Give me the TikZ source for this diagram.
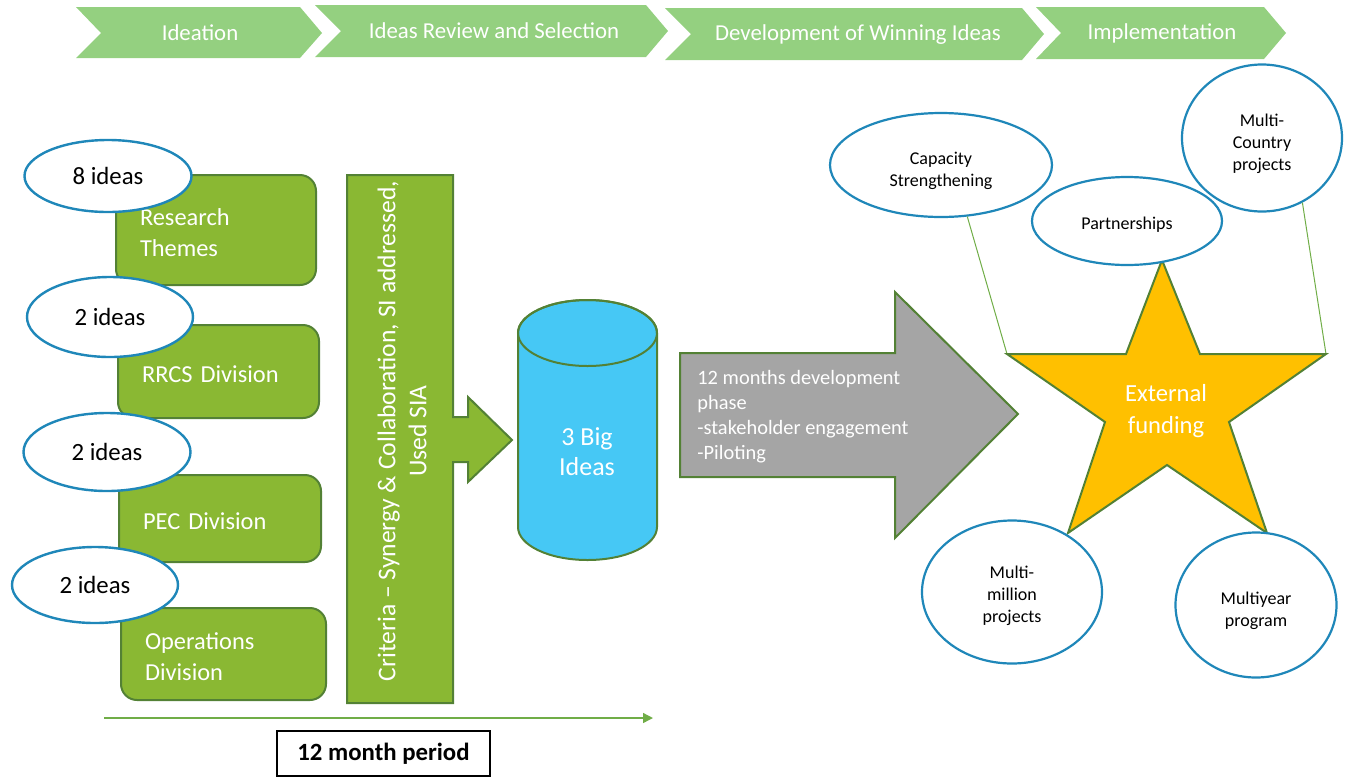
\documentclass[tikz,border=0pt]{standalone}
\usepackage{fontspec}
\setmainfont{Carlito}
\usetikzlibrary{arrows.meta,positioning,shapes.geometric}
\definecolor{phasegreen}{RGB}{148,208,128}
\definecolor{boxgreen}{RGB}{138,184,51}
\definecolor{edgegreen}{RGB}{83,129,53}
\definecolor{linkgreen}{RGB}{112,173,71}
\definecolor{ideablue}{RGB}{31,135,185}
\definecolor{cylblue}{RGB}{70,200,245}
\definecolor{arrowgray}{RGB}{165,165,165}
\definecolor{stargold}{RGB}{255,192,0}
\tikzset{
  phase/.style={fill=phasegreen},
  phasetext/.style={text=white,font=\fontsize{11.4}{13}\selectfont},
  unitbox/.style={rectangle,rounded corners=8pt,draw=edgegreen,line width=1pt,fill=boxgreen,text=white,align=left,anchor=west,inner xsep=12pt,font=\fontsize{12.2}{15.5}\selectfont,execute at begin node={\rule{0pt}{11pt}}},
  ideas/.style={ellipse,draw=ideablue,line width=1.2pt,fill=white,inner sep=0pt,font=\fontsize{12.4}{15}\selectfont},
  outcome/.style={ellipse,draw=ideablue,line width=1.1pt,fill=white,inner sep=0pt,align=center,font=\fontsize{9}{11}\selectfont},
  block/.style={draw=edgegreen,line width=1pt},
  whitetext/.style={text=white,align=center},
  link/.style={draw=linkgreen,line width=0.5pt},
  timeline/.style={draw=linkgreen,line width=0.7pt,-{Triangle[length=5pt,width=5pt]}}
}
\begin{document}
\begin{tikzpicture}[x=0.5pt,y=-0.5pt]
\useasboundingbox (0,0) rectangle (1351,778);

% phases along the top
\fill[phase] (76,7) -- (300,7) -- (322,33) -- (300,58) -- (76,58) -- (101,33) -- cycle;
\fill[phase] (315,5) -- (646,5) -- (668,31) -- (646,57) -- (315,57) -- (341,31) -- cycle;
\fill[phase] (665,8) -- (1022,8) -- (1044,34) -- (1022,60) -- (665,60) -- (691,34) -- cycle;
\fill[phase] (1036,7) -- (1264,7) -- (1286,33) -- (1264,59) -- (1036,59) -- (1061,33) -- cycle;
\node[phasetext] (p1) at (200,33) {Ideation};
\node[phasetext] (p2) at (494,31) {Ideas Review and Selection};
\node[phasetext] (p3) at (858,35) {Development of Winning Ideas};
\node[phasetext] (p4) at (1162,33) {Implementation};

% sources of ideas
\node[unitbox,text width=76pt,minimum height=55pt] (themes) at (115,230) {Research\\Themes};
\node[unitbox,text width=76.5pt,minimum height=46.5pt] (rrcs) at (117,371.5) {RRCS Division};
\node[unitbox,text width=77pt,minimum height=43.5pt] (pec) at (118,518.5) {PEC Division};
\node[unitbox,text width=78.5pt,minimum height=46pt] (ops) at (120,654) {Operations\\Division};

\node[ideas,minimum width=83.5pt,minimum height=36pt] (i1) at (108,176) {8 ideas};
\node[ideas,minimum width=83pt,minimum height=40pt] (i2) at (110,317) {2 ideas};
\node[ideas,minimum width=83.5pt,minimum height=39pt] (i3) at (107,452) {2 ideas};
\node[ideas,minimum width=83pt,minimum height=38pt] (i4) at (95,585) {2 ideas};

% selection criteria
\filldraw[block,fill=boxgreen] (347,175) -- (453,175) -- (453,417) -- (468,417) -- (468,397)
  -- (512,440) -- (468,482) -- (468,462) -- (453,462) -- (453,703) -- (347,703) -- cycle;
\node[whitetext,rotate=90,font=\fontsize{12.8}{15.5}\selectfont] (crit) at (402,431)
  {Criteria -- Synergy \& Collaboration, SI addressed,\\Used SIA};

% big ideas
\filldraw[block,fill=cylblue] (518,333) -- (518,527) arc[start angle=180,end angle=0,x radius=69.5,y radius=33]
  -- (657,333) arc[start angle=0,end angle=-180,x radius=69.5,y radius=33] -- cycle;
\draw[block] (587.5,333) ellipse[x radius=69.5,y radius=33];
\node[whitetext,font=\fontsize{13}{15}\selectfont] (big) at (587,452) {3 Big\\Ideas};

% development phase
\filldraw[block,fill=arrowgray] (680,353) -- (895,353) -- (895,292) -- (1018,414) -- (895,538)
  -- (895,477) -- (680,477) -- cycle;
\node[text=white,align=left,anchor=west,inner sep=0pt,font=\fontsize{10.2}{12.5}\selectfont] (dev) at (697,416.5)
  {12 months development\\phase\\-stakeholder engagement\\-Piloting};

% external funding
\coordinate (starL) at (1007,354);
\coordinate (starR) at (1326,354);
\node[outcome,minimum width=111pt,minimum height=52pt,text height=23.5pt] (cap) at (941,165) {Capacity\\Strengthening};
\node[outcome,minimum width=80pt,minimum height=73.5pt,text height=34.5pt] (mc) at (1262,138) {Multi-\\Country\\projects};
\draw[link] (cap.-63) -- (starL);
\draw[link] (mc.-58) -- (starR);
\filldraw[block,fill=stargold] (1162,260) -- (1200,354) -- (starR) -- (1229,422) -- (1267,533)
  -- (1167,465) -- (1068,533) -- (1105,422) -- (starL) -- (1126,354) -- cycle;
\node[whitetext,font=\fontsize{12.3}{16}\selectfont] (fund) at (1166,411) {External\\funding};
\node[outcome,minimum width=95pt,minimum height=44pt,text height=9.5pt] (part) at (1127,221) {Partnerships};
\node[outcome,minimum width=90pt,minimum height=71.5pt,text height=32.5pt] (mm) at (1012,592) {Multi-\\million\\projects};
\node[outcome,minimum width=80.5pt,minimum height=72.5pt,text height=23.5pt] (my) at (1256,605) {Multiyear\\program};

% time span
\coordinate (t0) at (104,718);
\coordinate (t1) at (653,718);
\draw[timeline] (t0) -- (t1);
\node[draw,line width=0.75pt,minimum width=106.5pt,minimum height=22.5pt,font=\fontsize{12.4}{14}\selectfont\bfseries] (period) at (383.5,753.5) {12 month period};
\end{tikzpicture}
\end{document}
